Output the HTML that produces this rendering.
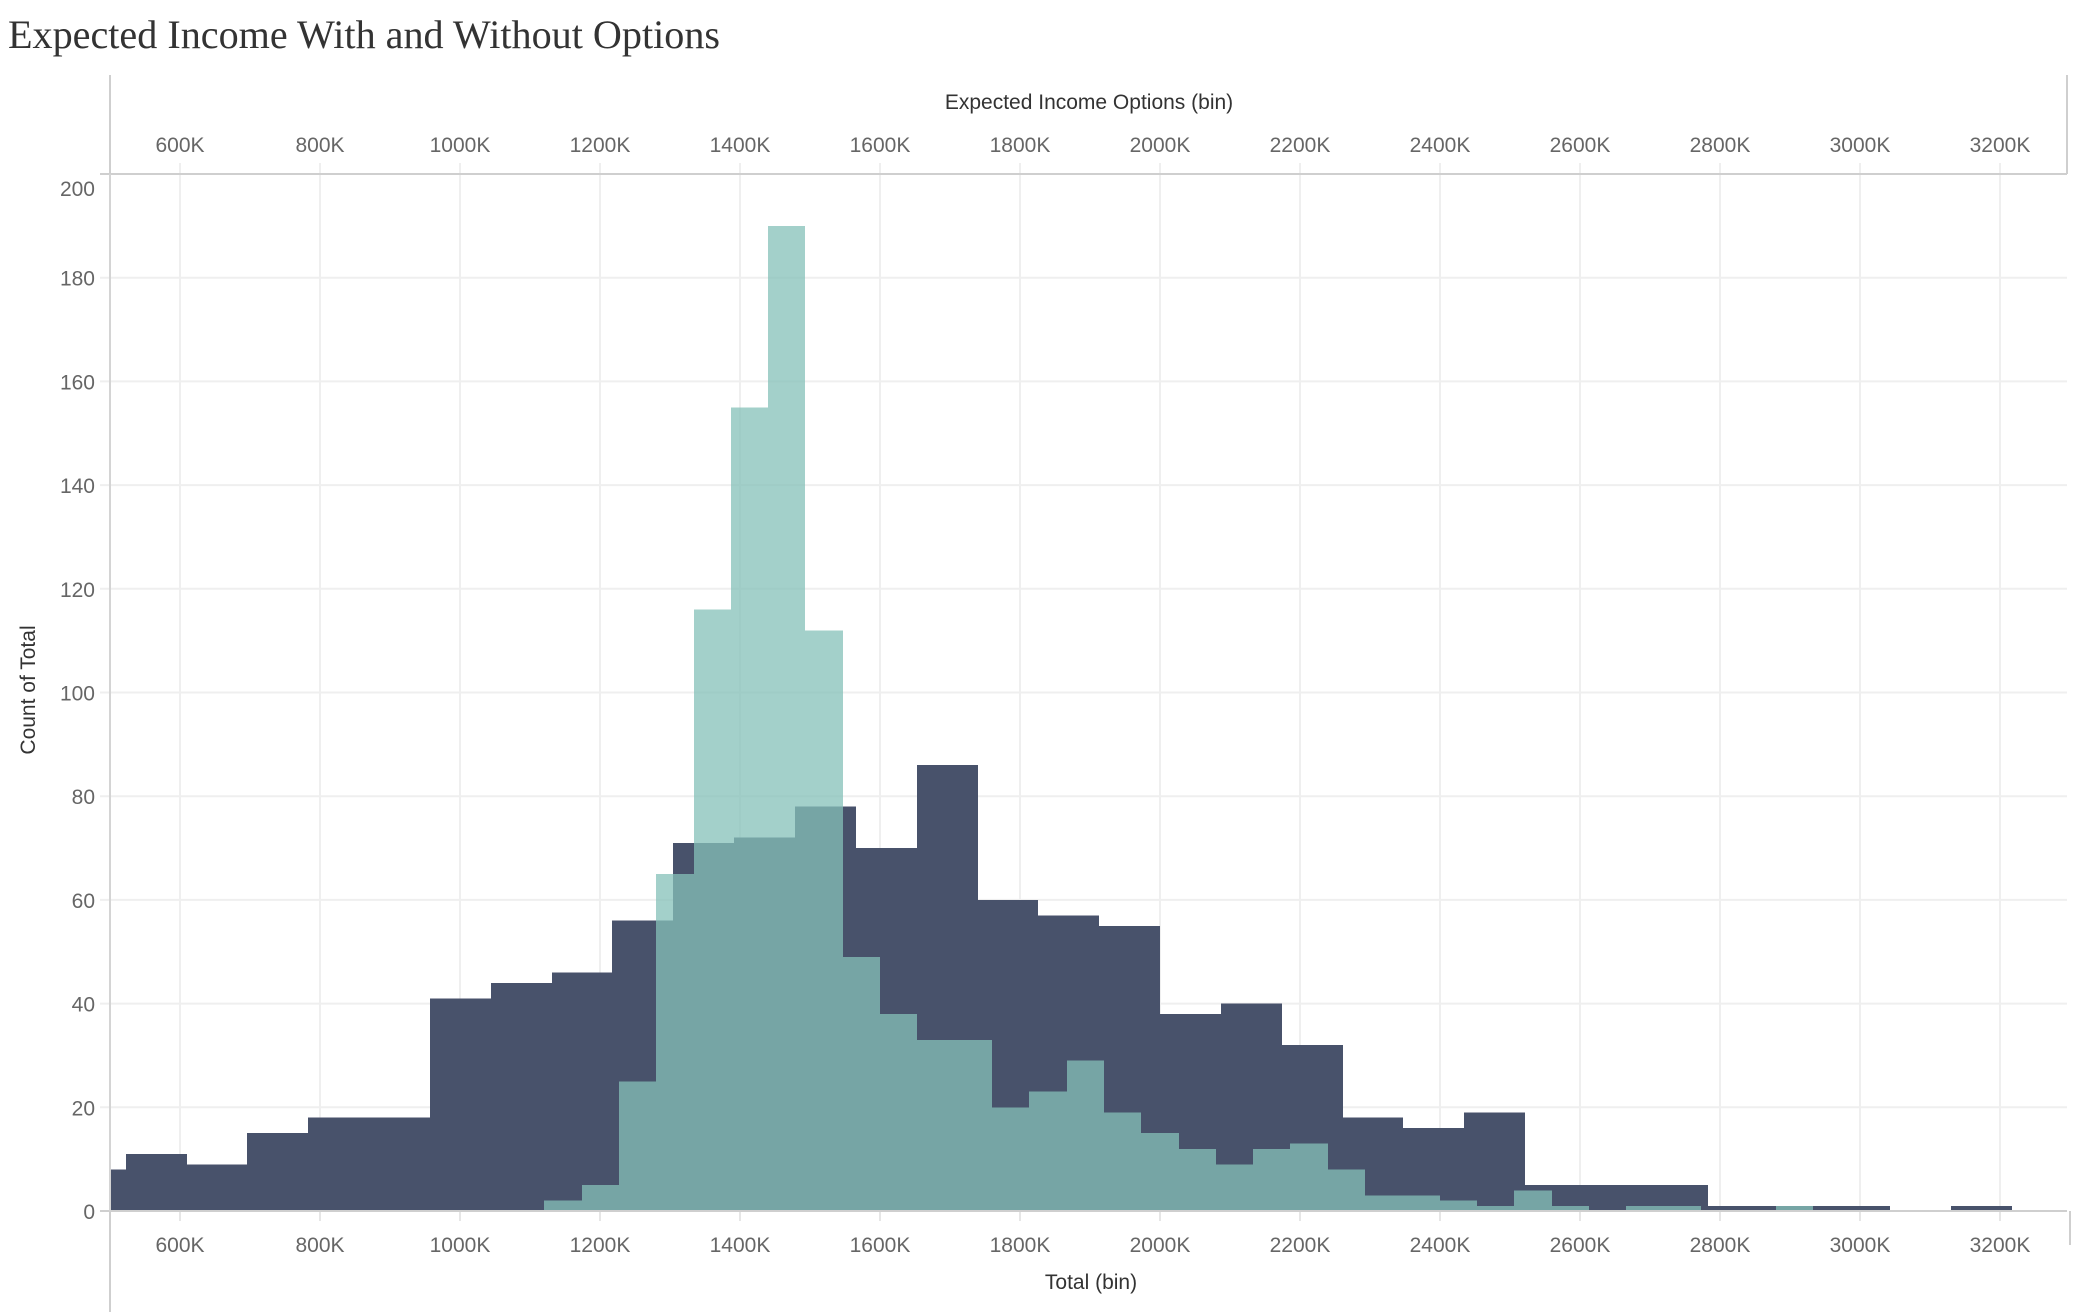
<!DOCTYPE html>
<html><head><meta charset="utf-8"><style>
html,body{margin:0;padding:0;background:#fff;}
svg{display:block;}
text{font-family:"Liberation Sans",sans-serif;}
</style></head><body>
<svg id="chart" width="2074" height="1312" viewBox="0 0 2074 1312" xmlns="http://www.w3.org/2000/svg">
<text x="8" y="48" font-family="Liberation Serif, serif" font-size="40" fill="#333" textLength="712" lengthAdjust="spacingAndGlyphs" style="font-family:'Liberation Serif',serif">Expected Income With and Without Options</text>
<g id="grid"></g>
<g id="bars" shape-rendering="crispEdges"></g>
<g id="axes"></g>
</svg>
<script>
const tickValuesK = [600,800,1000,1200,1400,1600,1800,2000,2200,2400,2600,2800,3000,3200];
const yTicks = [0,20,40,60,80,100,120,140,160,180,200];
const darkStartK = 435.5;
const darkWidthK = 86.92;
const darkCounts = [8,11,9,15,18,18,41,44,46,56,71,72,78,70,86,60,57,55,38,40,32,18,16,19,5,5,5,1,1,1,0,1];
const tealStartK = 1120.4;
const tealWidthK = 53.3;
const tealCounts = [2,5,25,65,116,155,190,112,49,38,33,33,20,23,29,19,15,12,9,12,13,8,3,3,2,1,4,1,0,1,1,0,0,1];

const NS = "http://www.w3.org/2000/svg";
const L = 110, R = 2067, T = 174, B = 1211;
function xs(k){ return 180 + (k - 600) * 0.7; }
function ys(v){ return B - v * 5.185; }
function mk(tag, attrs, parent){ const e = document.createElementNS(NS, tag); for (const k in attrs) e.setAttribute(k, attrs[k]); parent.appendChild(e); return e; }
const grid = document.getElementById('grid'), bars = document.getElementById('bars'), axes = document.getElementById('axes');

yTicks.forEach(v => {
  const y = ys(v);
  const ln = mk('line', {x1:100, x2:R, y1:y, y2:y, stroke:'#efefef', 'stroke-width':2}, grid);
  
  
  const t = mk('text', {x:95, y:(v===200? y+22 : y+8), 'text-anchor':'end', 'font-size':21, fill:'#666'}, axes);
  t.textContent = v;
  
  
});
tickValuesK.forEach(k => {
  const x = xs(k);
  const ln = mk('line', {x1:x, x2:x, y1:163, y2:B, stroke:'#efefef', 'stroke-width':2}, grid);
  
  
  const tk = mk('line', {x1:x, x2:x, y1:B, y2:B+10, stroke:'#e6e6e6', 'stroke-width':2}, grid);
  
  
  const t1 = mk('text', {x:x, y:152, 'text-anchor':'middle', 'font-size':21, fill:'#666'}, axes);
  t1.textContent = k + 'K';
  
  
  const t2 = mk('text', {x:x, y:1252, 'text-anchor':'middle', 'font-size':21, fill:'#666'}, axes);
  t2.textContent = k + 'K';
  
  
});

const defs = mk('defs', {}, document.getElementById('chart'));
const cp = mk('clipPath', {id:'plotclip'}, defs);
mk('rect', {x:L, y:T, width:R-L, height:B-T}, cp);
bars.setAttribute('clip-path', 'url(#plotclip)');

darkCounts.forEach((c, i) => {
  if (!c) return;
  const x0 = Math.round(xs(darkStartK + i * darkWidthK)), x1 = Math.round(xs(darkStartK + (i + 1) * darkWidthK));
  const r = mk('rect', {x:x0, y:ys(c), width:x1 - x0, height:B - ys(c), fill:'#48526b'}, bars);
  
  
});
tealCounts.forEach((c, i) => {
  if (!c) return;
  const x0 = Math.round(xs(tealStartK + i * tealWidthK)), x1 = Math.round(xs(tealStartK + (i + 1) * tealWidthK));
  const r = mk('rect', {x:x0, y:ys(c), width:x1 - x0, height:B - ys(c), fill:'rgb(133,193,185)', 'fill-opacity':0.754}, bars);
  
  
});

const lines = [
  ['top-axis-left-line', L, 75, L, T],
  ['top-axis-line', 100, T, R, T],
  ['top-axis-right-line', R, 75, R, T],
  ['x-axis-line', 100, B, R, B],
  ['bottom-axis-left-line', L, B, L, 1312],
  ['y-axis-line', L, T, L, B],
  ['bottom-axis-right-line', 2070, B, 2070, 1245]
];
lines.forEach(a => {
  const ln = mk('line', {x1:a[1], y1:a[2], x2:a[3], y2:a[4], stroke:(a[0]==='y-axis-line'?'#d4d4d4':'#cfcfcf'), 'stroke-width':2}, axes);
  
  
});

const tt = mk('text', {x:1089, y:109, 'text-anchor':'middle', 'font-size':21, fill:'#333'}, axes);
tt.textContent = 'Expected Income Options (bin)';


const bt = mk('text', {x:1091, y:1289, 'text-anchor':'middle', 'font-size':21, fill:'#333'}, axes);
bt.textContent = 'Total (bin)';


const yt = mk('text', {x:0, y:0, 'text-anchor':'middle', 'font-size':21, fill:'#333', transform:'translate(35,690) rotate(-90)'}, axes);
yt.textContent = 'Count of Total';


</script>
</body></html>
